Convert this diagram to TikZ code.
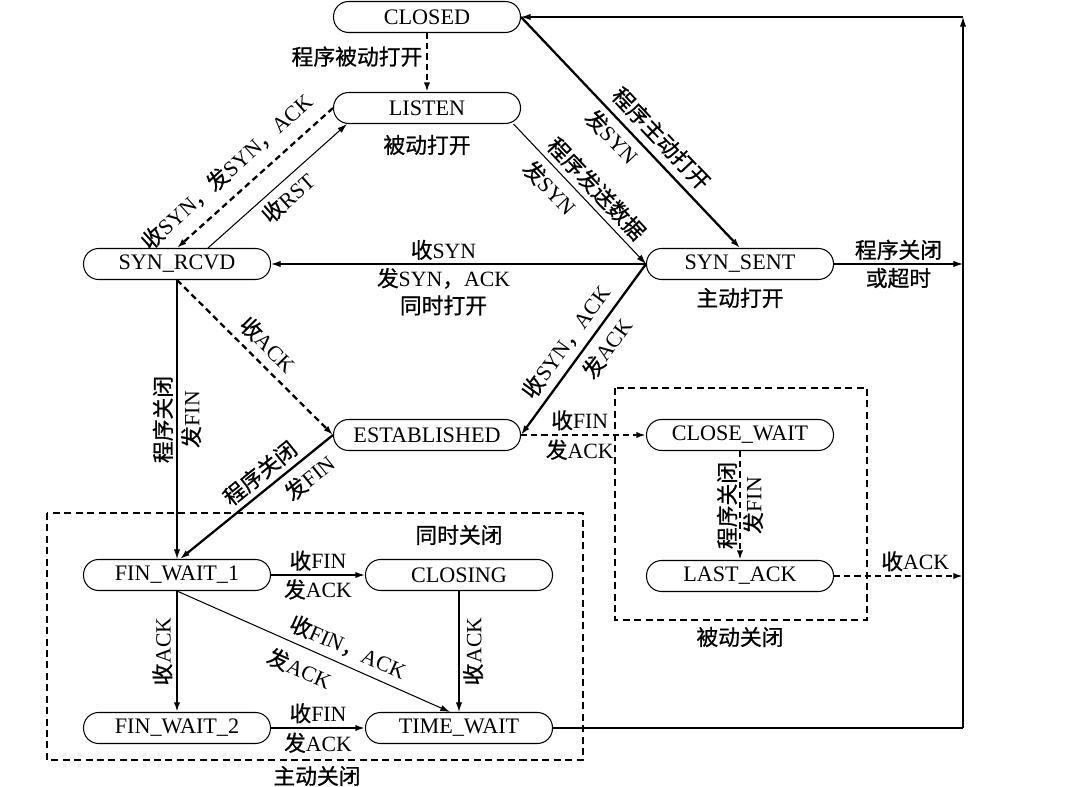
\documentclass[tikz,border=0pt]{standalone}
\usepackage{fontspec}
\setmainfont{Liberation Serif}
\newfontfamily\cjk{Noto Sans CJK SC}[FakeBold=0.8]
\usetikzlibrary{arrows.meta, positioning, calc}
\newcommand{\zh}[1]{{\cjk #1}}

\begin{document}
\begin{tikzpicture}[
  x=0.02cm, y=-0.02cm,
  stbox/.style={
    draw, line width=0.6pt,
    rounded corners=8.6pt,
    minimum width=3.74cm, minimum height=0.62cm,
    inner sep=1pt,
    font=\fontsize{12.6}{14}\selectfont
  },
  lbl/.style={
    font=\fontsize{12.4}{14.5}\selectfont,
    inner sep=2pt, align=center
  },
  grp/.style={draw, line width=0.6pt, dash pattern=on 4pt off 2.5pt},
  tarr/.style={-{Latex[length=5.5pt,width=3.6pt]}, line width=0.6pt},
  marr/.style={-{Latex[length=5.5pt,width=3.6pt]}, line width=0.9pt},
  karr/.style={-{Latex[length=5.5pt,width=3.6pt]}, line width=1.3pt},
  darr/.style={-{Latex[length=5.5pt,width=3.6pt]}, line width=1.3pt,
    dash pattern=on 3.5pt off 2.3pt}
]
\useasboundingbox (0,0) rectangle (1073,787);

%% --- states ---
\node[stbox] (closed)    at (427,17)  {CLOSED};
\node[stbox] (listen)    at (427,108) {LISTEN};
\node[stbox] (synrcvd)   at (177,264) {SYN\_RCVD};
\node[stbox] (synsent)   at (740,264) {SYN\_SENT};
\node[stbox] (estab)     at (427,435) {ESTABLISHED};
\node[stbox] (closewait) at (740,435) {CLOSE\_WAIT};
\node[stbox] (lastack)   at (740,576) {LAST\_ACK};
\node[stbox] (finwa)     at (177,575) {FIN\_WAIT\_1};
\node[stbox] (closing)   at (459,575) {CLOSING};
\node[stbox] (finwb)     at (177,728) {FIN\_WAIT\_2};
\node[stbox] (timewait)  at (459,728) {TIME\_WAIT};

\node[lbl] (lpasopen) at (427,145) {\zh{被动打开}};
\node[lbl] (lactopen) at (740,298) {\zh{主动打开}};

%% --- dashed groups ---
\draw[grp] (47,513) rectangle (583,760);
\node[lbl] (lsimclose) at (459,535) {\zh{同时关闭}};
\node[lbl] (lactclose) at (317,776) {\zh{主动关闭}};
\draw[grp] (615,388) rectangle (867,620);
\node[lbl] (lpasclose) at (740,637) {\zh{被动关闭}};

%% --- right return line ---
\coordinate (rcl) at (963,17);
\coordinate (rss) at (963,264);
\coordinate (rla) at (963,576);
\coordinate (rtw) at (963,728);

%% --- open ---
\draw[darr] (closed) -- node[lbl, left, pos=0.4] {\zh{程序被动打开}} (listen);
\draw[darr] (listen.west) -- node[lbl, sloped, above=5pt, pos=0.58]
  {\zh{收}SYN\zh{，发}SYN\zh{，}ACK} (synrcvd.north);
\draw[tarr] ([xshift=0.62cm]synrcvd.north) -- node[lbl, sloped, below=1pt, pos=0.5]
  {\zh{收}RST} ([xshift=0.28cm]listen.south west);
\draw[karr] (closed.east) --
  node[lbl, sloped, above=2pt, pos=0.58] {\zh{程序主动打开}}
  node[lbl, sloped, below=1pt, pos=0.47] {\zh{发}SYN} (synsent.north);
\draw[tarr] ([xshift=-0.15cm]listen.south east) --
  node[lbl, sloped, above=1pt, pos=0.54] {\zh{程序发送数据}}
  node[lbl, sloped, below=2pt, pos=0.37] {\zh{发}SYN} (synsent.west);
\draw[tarr] (synsent.west) --
  node[lbl, above, pos=0.54] {\zh{收}SYN}
  node[lbl, below, pos=0.54] {\zh{发}SYN\zh{，}ACK\\[1pt]\zh{同时打开}} (synrcvd.east);
\draw[tarr] (synsent.east) --
  node[lbl, above, pos=0.5] {\zh{程序关闭}}
  node[lbl, below, pos=0.5] {\zh{或超时}} (rss);
\draw[karr] (synsent.west) --
  node[lbl, sloped, above=2pt, pos=0.52] {\zh{收}SYN\zh{，}ACK}
  node[lbl, sloped, below=2pt, pos=0.43] {\zh{发}ACK} (estab.east);
\draw[darr] (synrcvd.south) -- node[lbl, sloped, above=2pt, pos=0.5] {\zh{收}ACK} (estab.west);

%% --- close ---
\draw[tarr] (synrcvd.south) --
  node[lbl, rotate=90, anchor=south, midway] {\zh{程序关闭}}
  node[lbl, rotate=90, anchor=north, midway] {\zh{发}FIN} (finwa.north);
\draw[karr] (estab.west) --
  node[lbl, sloped, above=1pt, pos=0.41] {\zh{程序关闭}}
  node[lbl, sloped, below=2pt, pos=0.23] {\zh{发}FIN} ([xshift=0.06cm]finwa.north);
\draw[darr] (estab) --
  node[lbl, above, pos=0.47] {\zh{收}FIN}
  node[lbl, below, pos=0.47] {\zh{发}ACK} (closewait);
\draw[darr] (closewait) --
  node[lbl, rotate=90, anchor=south, midway, inner sep=1pt] {\zh{程序关闭}}
  node[lbl, rotate=90, anchor=north, midway, inner sep=1pt] {\zh{发}FIN} (lastack);
\draw[darr] (lastack) -- node[lbl, above, pos=0.63] {\zh{收}ACK} (rla);
\draw[marr] (finwa) --
  node[lbl, above] {\zh{收}FIN}
  node[lbl, below] {\zh{发}ACK} (closing);
\draw[karr] (finwa) --
  node[lbl, rotate=90, anchor=south, midway] {\zh{收}ACK} (finwb);
\draw[tarr] (finwa.south) --
  node[lbl, sloped, above=2pt, pos=0.6] {\zh{收}FIN\zh{，}ACK}
  node[lbl, sloped, below=4pt, pos=0.48] {\zh{发}ACK} ([xshift=-0.18cm]timewait.north);
\draw[tarr] (closing) --
  node[lbl, rotate=90, anchor=north, midway] {\zh{收}ACK} (timewait);
\draw[karr] (finwb) --
  node[lbl, above] {\zh{收}FIN}
  node[lbl, below] {\zh{发}ACK} (timewait);

%% --- back to CLOSED ---
\draw[line width=1.3pt] (timewait) -- (rtw);
\draw[tarr] (rtw) -- (rcl);
\draw[tarr] (rcl) -- (closed);

\end{tikzpicture}
\end{document}
